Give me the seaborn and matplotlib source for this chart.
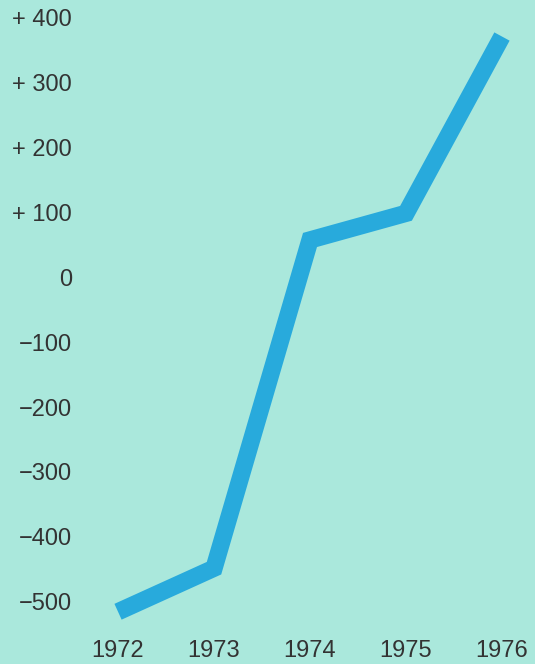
import pandas as pd
import seaborn as sns
import matplotlib.pyplot as plt

# Values
years = [1972, 1973, 1974, 1975, 1976]
values = [-515, -448, 57, 98, 370]
ytick_vals = [400, 300, 200, 100, 0, -100, -200, -300, -400, -500]
ytick_labels = ['+ 400', '+ 300', '+ 200', '+ 100', '0',
                '\u2212100', '\u2212200', '\u2212300', '\u2212400', '\u2212500']

df = pd.DataFrame({'year': years, 'value': values})

bg = '#aae8dc'
line_color = '#28aadc'

sns.set_style("white")
plt.rcParams['font.family'] = ['Liberation Sans', 'DejaVu Sans']

fig = plt.figure(figsize=(5.35, 6.64), dpi=100, facecolor=bg)
ax = fig.add_axes([0.1589, 0.0512, 0.8411, 0.9488])
ax.set_facecolor(bg)

sns.lineplot(data=df, x='year', y='value', ax=ax, color=line_color,
             linewidth=12.5, solid_capstyle='butt', solid_joinstyle='miter')

ax.set_xlim(1971.656, 1976.344)
ax.set_ylim(-543.1, 426.2)
ax.set_xticks(years)
ax.set_xticklabels([str(y) for y in years])
ax.set_yticks(ytick_vals)
ax.set_yticklabels(ytick_labels)
ax.tick_params(axis='both', length=0, labelsize=17, labelcolor='#333333')
ax.tick_params(axis='y', pad=9.4)
ax.tick_params(axis='x', pad=7)
ax.set_xlabel('')
ax.set_ylabel('')
for s in ax.spines.values():
    s.set_visible(False)

fig.savefig('out.png', dpi=100, facecolor=bg)
